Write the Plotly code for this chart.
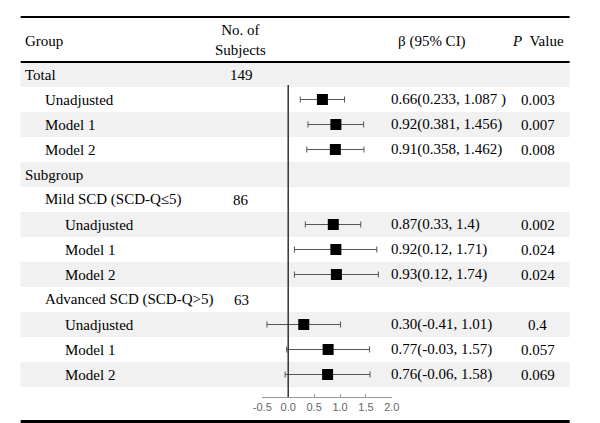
import plotly.graph_objects as go

# ---- data ----
row_labels = ["Total", "Unadjusted", "Model 1", "Model 2", "Subgroup",
              "Mild SCD (SCD-Q≤5)", "Unadjusted", "Model 1", "Model 2",
              "Advanced SCD (SCD-Q>5)", "Unadjusted", "Model 1", "Model 2"]
row_indent = [0, 1, 1, 1, 0, 1, 2, 2, 2, 1, 2, 2, 2]
n_subjects = ["149", "", "", "", "", "86", "", "", "", "63", "", "", ""]
beta = [None, 0.66, 0.92, 0.91, None, None, 0.87, 0.92, 0.93, None, 0.30, 0.77, 0.76]
ci_low = [None, 0.233, 0.381, 0.358, None, None, 0.33, 0.12, 0.12, None, -0.41, -0.03, -0.06]
ci_high = [None, 1.087, 1.456, 1.462, None, None, 1.4, 1.71, 1.74, None, 1.01, 1.57, 1.58]
ci_text = ["", "0.66(0.233, 1.087 )", "0.92(0.381, 1.456)", "0.91(0.358, 1.462)", "", "",
           "0.87(0.33, 1.4)", "0.92(0.12, 1.71)", "0.93(0.12, 1.74)", "",
           "0.30(-0.41, 1.01)", "0.77(-0.03, 1.57)", "0.76(-0.06, 1.58)"]
p_text = ["", "0.003", "0.007", "0.008", "", "", "0.002", "0.024", "0.024", "",
          "0.4", "0.057", "0.069"]
x_ticks = [-0.5, 0.0, 0.5, 1.0, 1.5, 2.0]
x_ticklabels = ["-0.5", "0.0", "0.5", "1.0", "1.5", "2.0"]

W, H = 600, 423
ROW_H = 25.0
ROW0_CENTER = 74.5  # pixel y center of first row
SERIF = "Liberation Serif, Times New Roman, serif"

def px_to_row(py):
    return (py - ROW0_CENTER) / ROW_H

def px_x(px):
    return px / W

def px_y(py):
    return 1 - py / H

fig = go.Figure()

rows = list(range(len(row_labels)))
pts_y = [r for r, b in zip(rows, beta) if b is not None]
pts_x = [b for b in beta if b is not None]
err_plus = [h - b for b, h in zip(beta, ci_high) if b is not None]
err_minus = [b - l for b, l in zip(beta, ci_low) if b is not None]

fig.add_trace(go.Scatter(
    x=pts_x, y=pts_y, mode="markers",
    marker=dict(symbol="square", size=11, color="black"),
    error_x=dict(type="data", symmetric=False, array=err_plus, arrayminus=err_minus,
                 color="#555555", thickness=1, width=3),
    showlegend=False, hoverinfo="skip",
))

shapes = []
# shaded row bands
for r in rows:
    if r % 2 == 0:
        shapes.append(dict(type="rect", xref="paper", yref="y",
                           x0=px_x(12), x1=px_x(577), y0=r - 0.5, y1=r + 0.5,
                           fillcolor="#f1f1f1", line=dict(width=0), layer="below"))
# rules
shapes.append(dict(type="line", xref="paper", yref="paper", x0=px_x(12), x1=px_x(577),
                   y0=px_y(17), y1=px_y(17), line=dict(color="black", width=2)))
shapes.append(dict(type="line", xref="paper", yref="paper", x0=px_x(12), x1=px_x(577),
                   y0=px_y(62), y1=px_y(62), line=dict(color="black", width=2)))
shapes.append(dict(type="rect", xref="paper", yref="paper", x0=px_x(12), x1=px_x(577),
                   y0=px_y(423), y1=px_y(420), fillcolor="black", line=dict(width=0)))
# zero line
shapes.append(dict(type="line", xref="x", yref="y", x0=0, x1=0,
                   y0=px_to_row(85), y1=px_to_row(397),
                   line=dict(color="#333333", width=1.5)))

ann = []
def txt(x, y, s, xanchor="left", yref="y", size=15, color="black", font=SERIF):
    ann.append(dict(x=x, y=y, xref="paper", yref=yref, text=s, showarrow=False,
                    xanchor=xanchor, yanchor="middle",
                    font=dict(family=font, size=size, color=color)))

# header
txt(px_x(14), px_y(41), "Group", yref="paper")
txt(px_x(238), px_y(40), "No. of<br>Subjects", xanchor="center", yref="paper")
txt(px_x(435), px_y(41), "β (95% CI)", xanchor="center", yref="paper")
txt(px_x(544), px_y(41), "<i>P</i>  Value", xanchor="center", yref="paper")

indent_px = [14, 35, 56]
for r in rows:
    txt(px_x(indent_px[row_indent[r]]), r, row_labels[r])
    if n_subjects[r]:
        txt(px_x(239), r, n_subjects[r], xanchor="center")
    if ci_text[r]:
        txt(px_x(391), r, ci_text[r])
    if p_text[r]:
        txt(px_x(544), r, p_text[r], xanchor="center")

fig.update_layout(
    width=W, height=H,
    margin=dict(l=0, r=0, t=0, b=0),
    paper_bgcolor="white", plot_bgcolor="rgba(0,0,0,0)",
    shapes=shapes, annotations=ann,
    xaxis=dict(domain=[260.7 / W, 394 / W], range=[-0.5, 2.0],
               anchor="free", position=px_y(397),
               tickvals=x_ticks, ticktext=x_ticklabels,
               ticks="inside", ticklen=3, tickcolor="#999999", tickwidth=1,
               showline=True, linecolor="#999999", linewidth=1,
               showgrid=False, zeroline=False,
               tickfont=dict(family="Liberation Sans, Arial, sans-serif", size=11, color="#666666")),
    yaxis=dict(domain=[0, 1], range=[px_to_row(H), px_to_row(0)],
               visible=False, showgrid=False, zeroline=False),
)

fig.write_html("out.html")
